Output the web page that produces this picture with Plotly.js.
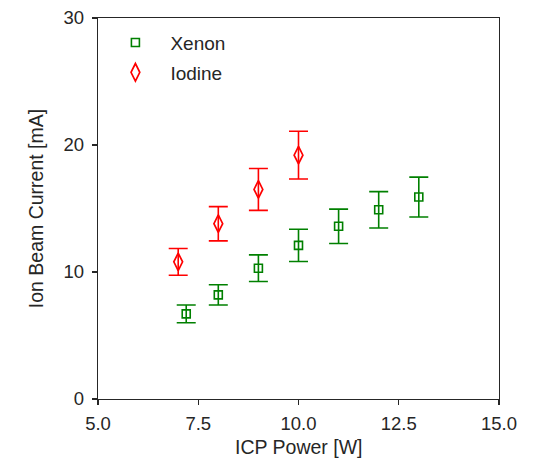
<!DOCTYPE html>
<html>
<head>
<meta charset="utf-8">
<script src="https://cdn.plot.ly/plotly-3.0.1.min.js"></script>
<style>html,body{margin:0;padding:0;background:#fff;}#chart{width:536px;height:458px;}</style>
</head>
<body>
<div id="chart"></div>
<script>
const xenonPower = [7.2, 8, 9, 10, 11, 12, 13];
const xenonCurrent = [6.7, 8.2, 10.3, 12.1, 13.6, 14.9, 15.9];
const xenonError = [0.7, 0.8, 1.05, 1.27, 1.35, 1.43, 1.57];

const iodinePower = [7, 8, 9, 10];
const iodineCurrent = [10.8, 13.8, 16.5, 19.2];
const iodineError = [1.05, 1.35, 1.65, 1.88];

const xTicks = [5, 7.5, 10, 12.5, 15];
const xTickLabels = ['5.0', '7.5', '10.0', '12.5', '15.0'];
const yTicks = [0, 10, 20, 30];
const xTitle = 'ICP Power [W]';
const yTitle = 'Ion Beam Current [mA]';

const traces = [
  {
    x: xenonPower, y: xenonCurrent, name: 'Xenon', type: 'scatter', mode: 'markers', legendgroup: 'a',
    marker: {symbol: 'square-open', size: 8, color: '#008000', line: {width: 1.6, color: '#008000'}},
    error_y: {type: 'data', array: xenonError, visible: true, color: '#008000', thickness: 1.6, width: 9.5}
  },
  {
    x: iodinePower, y: iodineCurrent, name: 'Iodine', type: 'scatter', mode: 'markers', legendgroup: 'b',
    marker: {symbol: 'diamond-tall-open', size: 12.5, color: '#ff0000', line: {width: 1.7, color: '#ff0000'}},
    error_y: {type: 'data', array: iodineError, visible: true, color: '#ff0000', thickness: 1.6, width: 9.5}
  }
];

const fam = '"Liberation Sans", Arial, sans-serif';
const ink = '#262626';

const layout = {
  width: 536, height: 458,
  margin: {l: 97.7, r: 36.7, t: 18, b: 58.7},
  paper_bgcolor: '#fff', plot_bgcolor: '#fff',
  font: {family: fam, size: 18.5, color: ink},
  showlegend: true,
  legend: {x: 0.006, y: 0.985, xanchor: 'left', yanchor: 'top', bgcolor: 'rgba(0,0,0,0)',
           itemwidth: 60, tracegroupgap: 2,
           font: {family: fam, size: 19, color: ink}},
  xaxis: {
    range: [5, 15], tickvals: xTicks, ticktext: xTickLabels,
    showgrid: false, zeroline: false, showline: true, linecolor: ink, linewidth: 1.3, mirror: true,
    ticks: 'outside', ticklen: 5, tickwidth: 1.3, tickcolor: ink, ticklabelstandoff: 2,
    tickfont: {family: fam, size: 18.5, color: ink}
  },
  yaxis: {
    range: [0, 30], tickvals: yTicks,
    showgrid: false, zeroline: false, showline: true, linecolor: ink, linewidth: 1.3, mirror: true,
    ticks: 'outside', ticklen: 5, tickwidth: 1.3, tickcolor: ink, ticklabelstandoff: 4,
    tickfont: {family: fam, size: 18.5, color: ink},
    title: {text: yTitle, font: {family: fam, size: 19.5, color: ink}, standoff: 14}
  },
  annotations: [{
    text: xTitle, xref: 'paper', yref: 'paper', x: 0.5, y: 0,
    xanchor: 'center', yanchor: 'top', yshift: -35, showarrow: false,
    font: {family: fam, size: 19.5, color: ink}
  }]
};

Plotly.newPlot('chart', traces, layout, {displayModeBar: false, staticPlot: true});
</script>
</body>
</html>
